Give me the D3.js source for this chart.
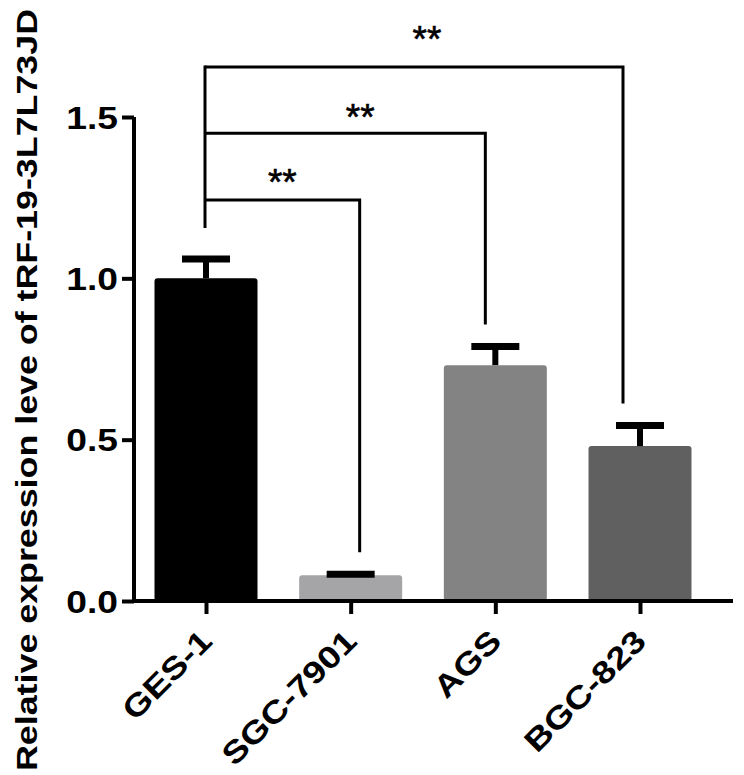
<!DOCTYPE html>
<html>
<head>
<meta charset="utf-8">
<script src="https://cdn.jsdelivr.net/npm/d3@7"></script>
<style>
  html, body { margin: 0; padding: 0; background: #fff; }
  svg { display: block; }
  text { font-family: "Liberation Sans", Arial, sans-serif; }
</style>
</head>
<body>
<svg id="chart" width="744" height="775"></svg>
<script>
// ---- data ----
const categories = ["GES-1", "SGC-7901", "AGS", "BGC-823"];
const means = [1.00, 0.08, 0.731, 0.48];
const sems = [0.06, 0.003, 0.058, 0.064];
const barColors = ["#000000", "#a5a5a7", "#838383", "#606060"];
const yTicks = [0.0, 0.5, 1.0, 1.5];
const yTickLabels = ["0.0", "0.5", "1.0", "1.5"];
const yLabel = "Relative expression leve of tRF-19-3L7L73JD";
const comparisonFrom = [0, 0, 0];
const comparisonTo = [1, 2, 3];
const comparisonLabels = ["**", "**", "**"];

// ---- layout (style, not data) ----
const W = 744, H = 775;
const bracketLevels = [1.243, 1.45, 1.655];     // height of each bracket (y units)
const bracketEndDx = [9, -10, -17];              // offsets of right legs from bar centres
const starDx = [0, 15, 13], starDy = [-31, -29, -41];

const svg = d3.select("#chart");

const y = d3.scaleLinear().domain([0, 1.5]).range([601, 117]);
const x = d3.scalePoint().domain(categories).range([206, 640]);
const barW = 103;

const data = categories.map((c, i) => ({ c, m: means[i], s: sems[i], col: barColors[i] }));

// bars
svg.append("g").selectAll("rect").data(data).join("rect")
  .attr("x", d => x(d.c) - barW / 2)
  .attr("width", barW)
  .attr("y", d => y(d.m))
  .attr("height", d => y(0) - y(d.m))
  .attr("rx", 3)
  .attr("fill", d => d.col);

// error bars
const eb = svg.append("g").attr("stroke", "#000");
eb.selectAll("line.stem").data(data).join("line")
  .attr("class", "stem")
  .attr("x1", d => x(d.c)).attr("x2", d => x(d.c))
  .attr("y1", d => y(d.m)).attr("y2", d => y(d.m + d.s))
  .attr("stroke-width", 6);
eb.selectAll("line.cap").data(data).join("line")
  .attr("class", "cap")
  .attr("x1", d => x(d.c) - 24).attr("x2", d => x(d.c) + 24)
  .attr("y1", d => y(d.m + d.s)).attr("y2", d => y(d.m + d.s))
  .attr("stroke-width", 7);

// y axis
const yAxis = d3.axisLeft(y).tickValues(yTicks)
  .tickFormat((d, i) => yTickLabels[i]).tickSize(12).tickPadding(4);
const gy = svg.append("g").attr("transform", "translate(134,0)").call(yAxis);
gy.select(".domain").attr("stroke-width", 4).attr("d", `M0,${y(1.5)}V${y(0) + 2}`);
gy.selectAll(".tick line").attr("stroke-width", 4);
gy.selectAll(".tick text")
  .attr("font-size", 31).attr("font-weight", "bold").attr("fill", "#000")
  .attr("dy", "0.36em")
  .attr("x", null)
  .attr("transform", "translate(-16,0) scale(1.2,1)");

// x axis
const xAxis = d3.axisBottom(x).tickSize(13).tickFormat("");
const gx = svg.append("g").attr("transform", `translate(0,${y(0)})`).call(xAxis);
gx.select(".domain").attr("stroke-width", 4).attr("d", `M132,0H733`);
gx.selectAll(".tick line").attr("stroke-width", 4);

// x labels (rotated)
svg.append("g").selectAll("text").data(categories).join("text")
  .attr("transform", d => `translate(${x(d) + 8},643) rotate(-45) scale(1.2,1)`)
  .attr("text-anchor", "end")
  .attr("font-size", 31).attr("font-weight", "bold")
  .text(d => d);

// y label
svg.append("text")
  .attr("transform", "translate(37,390) rotate(-90)")
  .attr("text-anchor", "middle")
  .attr("font-size", 30).attr("font-weight", "bold")
  .attr("textLength", 762).attr("lengthAdjust", "spacingAndGlyphs")
  .text(yLabel);

// significance brackets
const gb = svg.append("g").attr("fill", "none").attr("stroke", "#000").attr("stroke-width", 3);
const leftX = x(categories[0]) - 1;
const leftBottom = y(means[0] + sems[0]) - 31;
gb.append("line")
  .attr("x1", leftX).attr("x2", leftX)
  .attr("y1", y(d3.max(bracketLevels)) - 1.5).attr("y2", leftBottom);
comparisonTo.forEach((t, i) => {
  const lvl = y(bracketLevels[i]);
  const rx = x(categories[t]) + bracketEndDx[i];
  const endY = y(means[t] + sems[t]) - 22;
  gb.append("path").attr("d", `M${leftX},${lvl}H${rx}V${endY}`);
  svg.append("text")
    .attr("x", (leftX + rx) / 2 + starDx[i])
    .attr("y", lvl + starDy[i] + 26)
    .attr("text-anchor", "middle")
    .attr("font-size", 37)
    .attr("stroke", "#000").attr("stroke-width", 0.6)
    .text(comparisonLabels[i]);
});
</script>
</body>
</html>
